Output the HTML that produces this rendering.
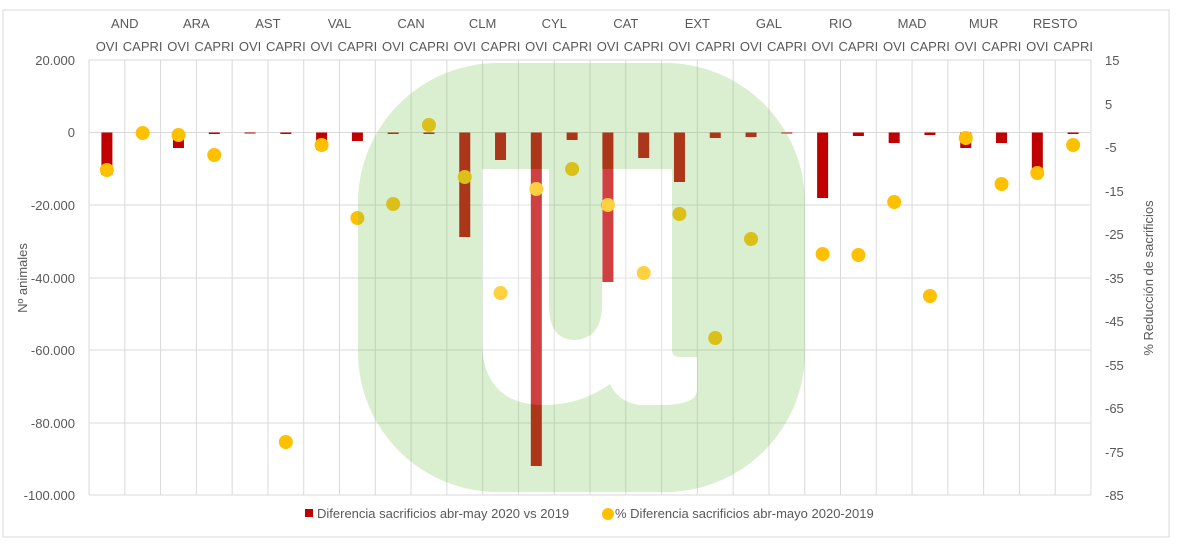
<!DOCTYPE html>
<html><head><meta charset="utf-8"><style>
body{margin:0;background:#fff}
svg text{font-family:"Liberation Sans",sans-serif;fill:#595959;font-size:13px}
</style></head><body>
<svg width="1200" height="552" xmlns="http://www.w3.org/2000/svg">
<defs>
<path id="wu" d="M482 169 L549 169 L549 305 Q549 340 575 340 Q602 338 602 305 L602 169 L672 169 L672 350 Q672 357 680 357 L697 357 L697 390 Q697 405 660 405 L640 405 Q618 402 610 384 Q580 405 545 405 Q482 405 482 340 Z"/>
<mask id="m"><rect width="1200" height="552" fill="#fff"/><use href="#wu" fill="#000"/></mask>
</defs>
<rect x="3" y="10" width="1166" height="527" fill="#fff" stroke="#d9d9d9"/>
<g id="g" stroke="#d9d9d9" stroke-width="1"></g>
<g id="b"></g>
<g id="d"></g>
<rect x="358" y="63" width="447" height="429" rx="140" fill="#7cc35a" opacity="0.28" mask="url(#m)"/>
<use href="#wu" fill="#fff" opacity="0.25"/>
<g id="t"></g>
<text x="75" y="65" text-anchor="end">20.000</text>
<text x="75" y="137" text-anchor="end">0</text>
<text x="75" y="210" text-anchor="end">-20.000</text>
<text x="75" y="283" text-anchor="end">-40.000</text>
<text x="75" y="355" text-anchor="end">-60.000</text>
<text x="75" y="428" text-anchor="end">-80.000</text>
<text x="75" y="500" text-anchor="end">-100.000</text>
<text x="1105" y="65">15</text>
<text x="1105" y="109">5</text>
<text x="1105" y="152">-5</text>
<text x="1105" y="196">-15</text>
<text x="1105" y="239">-25</text>
<text x="1105" y="283">-35</text>
<text x="1105" y="326">-45</text>
<text x="1105" y="370">-55</text>
<text x="1105" y="413">-65</text>
<text x="1105" y="457">-75</text>
<text x="1105" y="500">-85</text>
<text transform="translate(27,278) rotate(-90)" text-anchor="middle">Nº animales</text>
<text transform="translate(1153,278) rotate(-90)" text-anchor="middle">% Reducción de sacrificios</text>
<rect x="305" y="509" width="8" height="8" fill="#c00000"/>
<text x="317" y="518">Diferencia sacrificios abr-may 2020 vs 2019</text>
<circle cx="608" cy="514" r="6" fill="#ffc000"/>
<text x="615" y="518">% Diferencia sacrificios abr-mayo 2020-2019</text>
</svg>
<script>
const ns="http://www.w3.org/2000/svg";
function el(p,n,a,txt){const e=document.createElementNS(ns,n);for(const k in a)e.setAttribute(k,a[k]);if(txt!==undefined)e.textContent=txt;document.getElementById(p).appendChild(e);}
const L=89,R=1091,W=(R-L)/28;
[60,132.5,205,278,350,423,495].forEach(y=>el("g","line",{x1:L,x2:R,y1:y,y2:y}));
for(let i=0;i<=28;i++){const x=L+W*i;el("g","line",{x1:x,x2:x,y1:60,y2:495});}
const bars=[175,137,148,134,132,134,150,141,134,134,237,160,466,140,282,158,182,138,137,133.5,198,136,143,135,148,143,171,134];
const dots=[170,133,135,155,null,442,145,218,204,125,177,293,189,169,205,273,214,338,239,null,254,255,202,296,138,184,173,145];
const regs=["AND","ARA","AST","VAL","CAN","CLM","CYL","CAT","EXT","GAL","RIO","MAD","MUR","RESTO"];
for(let i=0;i<28;i++){const cx=L+W*(i+0.5);
 el("b","rect",{x:cx-5.5,y:132.5,width:11,height:Math.max(1,bars[i]-132.5),fill:"#c00000"});
 if(dots[i]!==null)el("d","circle",{cx:cx,cy:dots[i],r:7,fill:"#ffc000"});
 el("t","text",{x:cx,y:51,"text-anchor":"middle"},i%2?"CAPRI":"OVI");
}
regs.forEach((r,j)=>el("t","text",{x:L+W*(2*j+1),y:28,"text-anchor":"middle"},r));
</script>
</body></html>
